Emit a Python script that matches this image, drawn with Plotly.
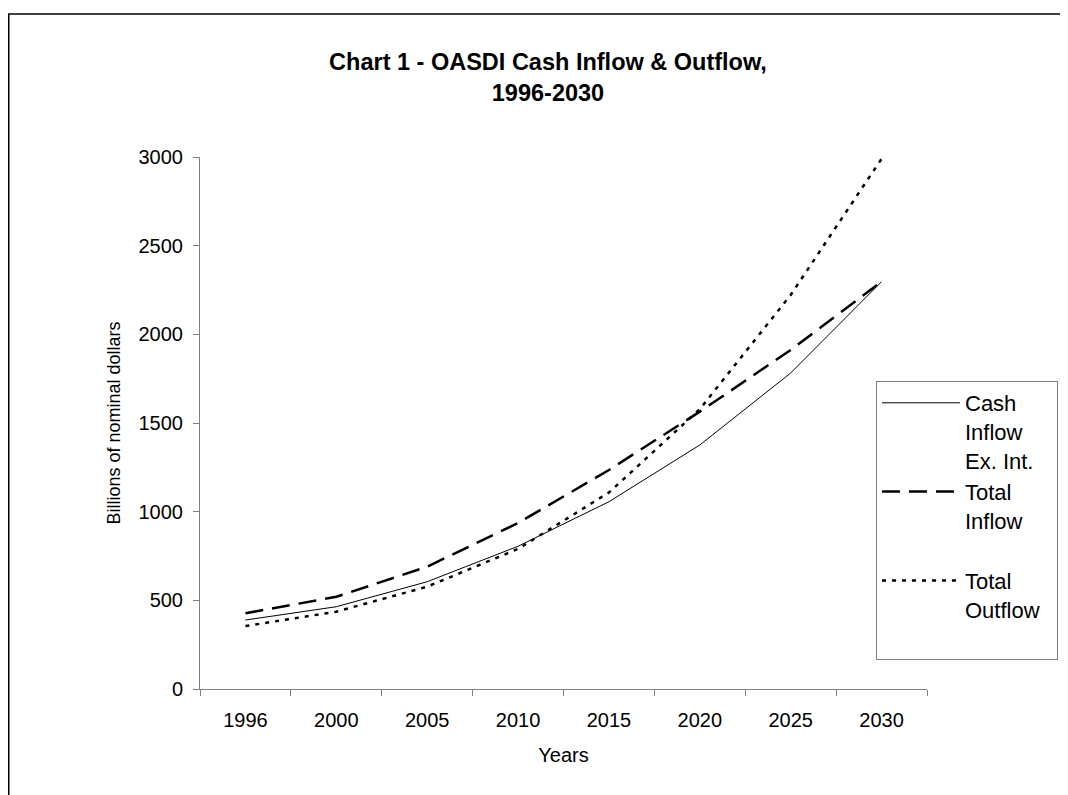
import plotly.graph_objects as go

years = ["1996", "2000", "2005", "2010", "2015", "2020", "2025", "2030"]
cash_inflow_ex_int = [389, 464, 605, 805, 1056, 1376, 1782, 2297]
total_inflow = [427, 520, 690, 936, 1235, 1564, 1912, 2297]
total_outflow = [355, 436, 577, 790, 1108, 1578, 2222, 2990]
y_ticks = [0, 500, 1000, 1500, 2000, 2500, 3000]

FONT = "Liberation Sans, Arial, sans-serif"

fig = go.Figure()
fig.add_trace(go.Scatter(x=years, y=cash_inflow_ex_int, mode="lines",
                         name="Cash<br>Inflow<br>Ex. Int.",
                         line=dict(color="black", width=1)))
fig.add_trace(go.Scatter(x=years, y=total_inflow, mode="lines",
                         name="Total<br>Inflow<br> ",
                         line=dict(color="black", width=2.5, dash="18px,9px")))
fig.add_trace(go.Scatter(x=years, y=total_outflow, mode="lines",
                         name="Total<br>Outflow&nbsp;&nbsp;<br> ",
                         line=dict(color="black", width=2.5, dash="4px,6px")))

# page body has an 8px margin: figure coords = screen coords - 8
OFF = 8
W, H = 1068 - OFF, 795 - OFF
L, T = 200 - OFF, 157 - OFF
R = W - (927 - OFF)
B = H - (689 - OFF)
pw, ph = W - L - R, H - T - B

def px_x(sx):
    return (sx - OFF - L) / pw

def px_y(sy):
    return (H - B - (sy - OFF)) / ph

fig.update_layout(
    width=W, height=H,
    margin=dict(l=L, r=R, t=T, b=B, autoexpand=False),
    paper_bgcolor="white", plot_bgcolor="white",
    font=dict(family=FONT, color="black", size=20),
    title=dict(text="<b>Chart 1 - OASDI Cash Inflow &amp; Outflow,<br>1996-2030</b>",
               x=(548 - OFF) / W, xanchor="center", y=1 - (70 - OFF) / H, yanchor="middle",
               font=dict(size=23.5, family=FONT)),
    showlegend=True,
    legend=dict(x=px_x(876), y=px_y(381), xanchor="left", yanchor="top",
                bordercolor="#808080", borderwidth=1, bgcolor="white",
                font=dict(size=22, family=FONT), valign="top",
                itemwidth=78, tracegroupgap=0),
    xaxis=dict(type="category", range=[-0.5, 7.5], showgrid=False,
               showline=True, linecolor="#808080", linewidth=1,
               ticks="outside", tickson="boundaries", ticklen=6, tickcolor="#808080",
               tickfont=dict(size=20), ticklabelstandoff=13,
               title=dict(text="Years", font=dict(size=20), standoff=17)),
    yaxis=dict(range=[0, 3000], tickvals=y_ticks, showgrid=False, zeroline=False,
               showline=True, linecolor="#808080", linewidth=1,
               ticks="outside", ticklen=6, tickcolor="#808080",
               tickfont=dict(size=20), ticklabelstandoff=6,
               title=dict(text="Billions of nominal dollars", font=dict(size=18), standoff=13)),
    shapes=[dict(type="rect", xref="paper", yref="paper",
                 x0=px_x(8.75), x1=px_x(1090),
                 y0=px_y(820), y1=px_y(14),
                 line=dict(color="black", width=1.5), fillcolor="rgba(0,0,0,0)",
                 layer="below")],
)

fig.write_html("out.html")
